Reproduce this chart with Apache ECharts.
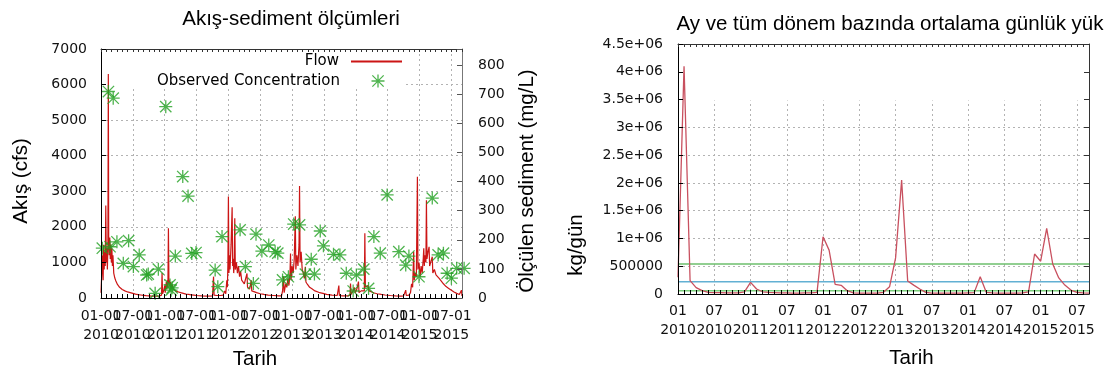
<!DOCTYPE html>
<html><head><meta charset="utf-8">
<script src="https://cdn.jsdelivr.net/npm/echarts@6/dist/echarts.min.js"></script>
<style>html,body{margin:0;padding:0;background:#fff}#c{width:1115px;height:374px}</style>
</head><body><div id="c"></div>
<script>
// ---- data (x in months since 01-01-2010) ----
const flowMonth = [0.0,0.15,0.3,0.4,0.5,0.6,0.7,0.8,0.9,1.0,1.1,1.2,1.3,1.38,1.45,1.55,1.65,1.75,1.85,1.95,2.05,2.15,2.25,2.4,2.6,2.8,3.1,3.5,4.0,4.5,5.0,5.5,6.0,6.5,7.0,7.5,8.0,8.5,9.0,9.5,10.0,10.5,11.0,11.4,
11.5,11.6,11.8,12.0,12.1,12.3,12.4,12.5,12.6,12.7,12.8,12.9,13.0,13.1,13.2,13.4,13.6,13.8,14.0,14.3,14.6,15.0,15.5,16.0,16.5,17.0,17.5,18.0,19.0,20.0,21.0,
21.1,21.2,21.3,21.8,22.5,23.0,23.3,23.5,23.7,23.8,23.9,24.0,24.1,24.2,24.3,24.5,24.7,24.8,24.9,25.0,25.1,25.2,25.3,25.5,25.7,25.9,26.1,26.3,26.5,26.8,27.0,27.3,27.5,27.6,28.0,28.3,28.4,28.8,29.3,30.0,30.7,31.5,32.5,33.5,
34.0,34.2,34.4,34.5,34.8,35.0,35.2,35.4,35.6,35.7,35.8,36.0,36.2,36.4,36.6,36.7,36.9,37.1,37.3,37.4,37.5,37.7,37.9,38.1,38.3,38.5,38.6,38.9,39.3,39.8,40.3,41.0,41.8,42.5,43.5,44.5,44.7,44.8,44.9,45.5,46.5,
46.9,47.0,47.1,47.5,47.7,47.9,48.2,48.5,48.6,49.0,49.3,49.6,49.7,49.8,50.0,50.3,50.5,51.0,51.5,52.0,52.8,53.5,54.5,55.5,56.5,57.0,
57.3,57.4,57.5,58.0,58.3,58.5,58.7,58.9,59.0,59.2,59.4,59.6,59.7,59.9,60.1,60.3,60.5,60.7,60.8,60.9,61.0,61.2,61.3,61.4,61.6,61.8,61.9,62.1,62.4,62.5,62.8,63.1,63.4,63.7,64.0,64.5,65.0,65.5,66.0,66.5,67.0,67.5,67.8,67.9,68.0];
const flowCfs = [150,700,1200,500,1500,800,1300,900,2600,1000,1400,800,1500,6300,1600,1200,1700,1100,1500,1000,1400,900,1200,700,560,480,380,300,240,200,170,150,130,110,95,85,75,65,60,55,50,55,60,80,
700,120,200,350,150,450,250,500,300,1960,400,500,300,450,250,380,250,280,200,220,170,150,130,110,100,90,80,70,60,55,60,
100,600,80,70,70,80,200,120,500,300,900,2850,700,1200,800,1500,2550,900,1100,700,1000,2240,800,1000,700,900,600,750,500,550,400,350,690,300,250,500,200,180,150,120,100,80,70,60,
60,200,600,150,400,300,550,350,700,1250,500,900,700,1100,2300,800,1200,900,1500,3150,1000,1300,800,700,550,880,450,380,300,250,200,160,130,100,80,70,70,350,70,60,60,
80,410,100,200,300,150,250,460,150,200,150,200,1820,300,250,350,200,170,140,120,100,85,70,60,55,60,
70,220,70,80,150,400,300,1300,500,700,600,3410,800,1000,600,900,700,1100,1400,900,1200,1000,2750,1100,1300,1440,900,1000,1160,700,800,650,600,550,500,400,320,270,220,170,130,100,90,220,60];
const concMonth = [0.25,1.4,1.7,2.3,3.0,4.2,5.2,6.1,7.2,8.6,8.9,10.2,10.8,12.2,13.0,13.2,13.4,14.0,15.4,16.4,17.1,17.9,21.5,22.0,22.8,26.2,27.2,28.7,29.2,30.3,31.6,32.8,33.3,34.2,35.3,36.3,37.4,38.5,39.6,40.2,41.3,41.9,43.8,45.0,46.2,47.5,48.1,49.5,50.4,51.4,52.6,53.9,56.1,57.4,58.0,59.9,62.4,63.5,64.5,65.2,66.0,67.0,68.4];
const concMgL = [171,709,176,686,193,119,197,108,148,79,82,16,99,657,45,27,35,144,417,350,153,156,96,39,211,234,108,50,219,161,182,159,154,62,73,254,251,82,133,82,230,179,150,148,85,24,79,99,33,211,154,354,159,113,144,73,343,148,154,85,68,102,102];
const loadKgDay = [300000,4100000,240000,115000,60000,30000,25000,25000,20000,20000,
20000,40000,210000,90000,40000,30000,25000,20000,20000,15000,
15000,20000,20000,30000,1030000,790000,175000,157000,60000,20000,
15000,15000,15000,15000,30000,130000,650000,2050000,234000,160000,
90000,30000,15000,15000,15000,15000,15000,15000,20000,25000,
310000,30000,20000,15000,15000,15000,15000,20000,40000,720000,
590000,1180000,540000,290000,160000,70000,30000,20000,15000];
const refLevels = [540000, 220000, 60000];
const tickMonth = ['01','07','01','07','01','07','01','07','01','07','01','07'];
const tickYear = ['2010','2010','2011','2011','2012','2012','2013','2013','2014','2014','2015','2015'];
const loadTickLabels = ['0','500000','1e+06','1.5e+06','2e+06','2.5e+06','3e+06','3.5e+06','4e+06','4.5e+06'];
const legendNames = ['Flow','Observed Concentration'];

// ---- styles ----
const refColors = ['#6cbf6c','#62b0d3','#7ccf7c'];
const dashed = {color:'#b3b3b3', type:[2,3], width:1};
const tickFont = {fontFamily:'DejaVu Sans', fontSize:14, color:'#111'};
const nameFont = '20.5px "Liberation Sans"';
const starPath = 'path://M9,0h2v20h-2z M0,9h20v2h-20z M2,0.6L19.4,18L18,19.4L0.6,2z M18,0.6L19.4,2L2,19.4L0.6,18z';

function xFmt(withDay){
  return function(v){
    const i = Math.round(v/6);
    if (Math.abs(v - i*6) > 1e-6 || i >= tickYear.length) return '';
    return tickMonth[i] + (withDay ? '-01' : '') + '\n' + tickYear[i];
  };
}
const X = {type:'value', min:0, max:68, interval:6};
const XM = {type:'value', min:0, max:68, interval:1};
const hidden = {axisLine:{show:false}, axisTick:{show:false}, axisLabel:{show:false}};
const frameLine = c => ({show:true, onZero:false, lineStyle:{color:c, width:1}});
const tIn = (c, len) => ({show:true, inside:true, length:len || 5, lineStyle:{color:c}});

const chart = echarts.init(document.getElementById('c'));
chart.setOption({
  animation:false,
  backgroundColor:'#fff',
  title:[
    {text:'Akış-sediment ölçümleri', left:291, top:9, textAlign:'center', padding:0,
     textStyle:{fontFamily:'Liberation Sans', fontSize:20.5, fontWeight:'normal', color:'#000'}},
    {text:'Ay ve tüm dönem bazında ortalama günlük yük', left:890, top:14, textAlign:'center', padding:0,
     textStyle:{fontFamily:'Liberation Sans', fontSize:20.5, fontWeight:'normal', color:'#000'}}
  ],
  legend:[
    {data:[legendNames[0]], right:712, top:54, orient:'vertical', align:'right', padding:0,
     itemWidth:51, itemHeight:14, selectedMode:false, itemStyle:{opacity:0},
     textStyle:{fontFamily:'DejaVu Sans', fontSize:15, color:'#000', padding:[0,7,0,0]}},
    {data:[legendNames[1]], right:730.5, top:73.5, orient:'vertical', align:'right', padding:0,
     itemWidth:13, itemHeight:13, selectedMode:false,
     textStyle:{fontFamily:'DejaVu Sans', fontSize:15, color:'#000', padding:[0,26.5,0,0]}}
  ],
  grid:[
    {left:101, top:49, width:361, height:249},
    {left:678, top:44, width:411, height:250}
  ],
  xAxis:[
    Object.assign({}, X, hidden, {gridIndex:0, position:'bottom', z:0, splitLine:{show:true, lineStyle:dashed}}),
    Object.assign({}, XM, {gridIndex:0, position:'bottom', z:4, axisLine:frameLine('#000'), axisTick:tIn('#000', 4),
      axisLabel:Object.assign({}, tickFont, {margin:9.5, lineHeight:18.3, formatter:xFmt(true), hideOverlap:false, showMinLabel:true, showMaxLabel:true}), splitLine:{show:false}}),
    Object.assign({}, XM, {gridIndex:0, position:'top', z:4, axisLine:frameLine('#333'), axisTick:tIn('#333', 3),
      axisLabel:{show:false}, splitLine:{show:false}}),
    Object.assign({}, X, hidden, {gridIndex:1, position:'bottom', z:0, splitLine:{show:true, lineStyle:dashed}}),
    Object.assign({}, XM, {gridIndex:1, position:'bottom', z:4, axisLine:frameLine('#000'), axisTick:tIn('#000', 4),
      axisLabel:Object.assign({}, tickFont, {margin:8.5, lineHeight:18.3, formatter:xFmt(false), hideOverlap:false, showMinLabel:true, showMaxLabel:true}), splitLine:{show:false}}),
    Object.assign({}, XM, {gridIndex:1, position:'top', z:4, axisLine:frameLine('#333'), axisTick:tIn('#333', 3),
      axisLabel:{show:false}, splitLine:{show:false}})
  ],
  yAxis:[
    Object.assign({type:'value', min:0, max:7000, interval:1000}, hidden, {gridIndex:0, position:'left', z:0, splitLine:{show:true, lineStyle:dashed}}),
    {type:'value', min:0, max:7000, interval:1000, gridIndex:0, position:'left', z:4, axisLine:frameLine('#000'), axisTick:tIn('#000'),
      axisLabel:Object.assign({}, tickFont, {margin:14, formatter:v => String(v)}), splitLine:{show:false}},
    {type:'value', min:0, max:855, interval:100, gridIndex:0, position:'right', z:4, axisLine:frameLine('#777'), axisTick:tIn('#555'),
      axisLabel:Object.assign({}, tickFont, {margin:16, formatter:v => (v % 100 === 0 ? String(v) : '')}), splitLine:{show:false}},
    Object.assign({type:'value', min:0, max:4500000, interval:500000}, hidden, {gridIndex:1, position:'left', z:0, splitLine:{show:true, lineStyle:dashed}}),
    {type:'value', min:0, max:4500000, interval:500000, gridIndex:1, position:'left', z:4, axisLine:frameLine('#000'), axisTick:tIn('#000'),
      axisLabel:Object.assign({}, tickFont, {margin:15, formatter:v => loadTickLabels[Math.round(v/500000)] || ''}), splitLine:{show:false}},
    {type:'value', min:0, max:4500000, interval:500000, gridIndex:1, position:'right', z:4, axisLine:frameLine('#333'), axisTick:tIn('#333'),
      axisLabel:{show:false}, splitLine:{show:false}}
  ],
  graphic:[
    {type:'rect', z:1, silent:true, shape:{x:102, y:50, width:304, height:38}, style:{fill:'#fff'}},
    {type:'rect', z:1, silent:true, shape:{x:679, y:45, width:409, height:55.5}, style:{fill:'#fff'}},
    {type:'text', x:21, y:181, rotation:Math.PI/2, style:{text:'Akış (cfs)', font:nameFont, fill:'#000', align:'center', verticalAlign:'middle', textAlign:'center', textVerticalAlign:'middle'}},
    {type:'text', x:527, y:181, rotation:Math.PI/2, style:{text:'Ölçülen sediment (mg/L)', font:nameFont, fill:'#000', align:'center', verticalAlign:'middle', textAlign:'center', textVerticalAlign:'middle'}},
    {type:'text', x:255, y:359.5, style:{text:'Tarih', font:nameFont, fill:'#000', align:'center', verticalAlign:'middle', textAlign:'center', textVerticalAlign:'middle'}},
    {type:'text', x:576, y:245, rotation:Math.PI/2, style:{text:'kg/gün', font:nameFont, fill:'#000', align:'center', verticalAlign:'middle', textAlign:'center', textVerticalAlign:'middle'}},
    {type:'text', x:911.5, y:358, style:{text:'Tarih', font:nameFont, fill:'#000', align:'center', verticalAlign:'middle', textAlign:'center', textVerticalAlign:'middle'}}
  ],
  series:[
    {name:legendNames[0], type:'line', xAxisIndex:1, yAxisIndex:1, z:2, symbol:'none', showSymbol:false,
     data:flowMonth.map((m,i) => [m, flowCfs[i]]), lineStyle:{color:'#cc1515', width:1.2}, itemStyle:{color:'#cc1515'}},
    {name:legendNames[1], type:'scatter', xAxisIndex:1, yAxisIndex:2, z:3, clip:false,
     symbol:starPath, symbolSize:13, symbolKeepAspect:true, itemStyle:{color:'#22a022'},
     data:concMonth.map((m,i) => [m, concMgL[i]])}
  ].concat(refLevels.map((lv,k) => ({
     name:'ref'+k, type:'line', xAxisIndex:4, yAxisIndex:4, z:2, symbol:'none', silent:true,
     data:[[0,lv],[68,lv]], lineStyle:{color:refColors[k], width:1.5}}))).concat([
    {name:'load', type:'line', xAxisIndex:4, yAxisIndex:4, z:3, symbol:'none', showSymbol:false,
     data:loadKgDay.map((v,i) => [i, v]), lineStyle:{color:'#c8505f', width:1.3}}
  ])
});
</script>
</body></html>
